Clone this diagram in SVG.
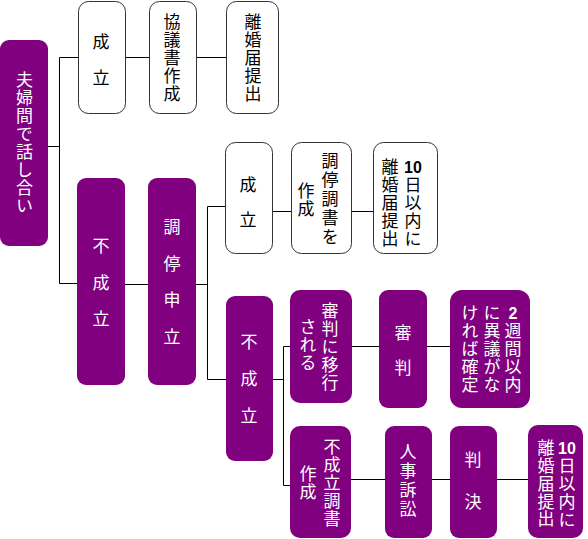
<svg xmlns="http://www.w3.org/2000/svg" width="588" height="539" viewBox="0 0 588 539">
<style>
.p{fill:#800080}
.w{fill:#fff;stroke:#333;stroke-width:1}
.v{font-family:"Noto Sans CJK JP","Noto Sans CJK SC",sans-serif;font-size:17px;writing-mode:vertical-rl;letter-spacing:1px}
.tw{fill:#fff}
.tb{fill:#000}
.d{font-family:"Liberation Sans",Arial,sans-serif;font-weight:bold;font-size:16px;text-anchor:middle;dominant-baseline:central}
.c{fill:none;stroke:#000;stroke-width:1}
</style>
<rect width="588" height="539" fill="#fff"/>
<g id="connectors">
<path class="c" d="M48,146.5H59.5M78,57.5H59.5V283.5H77"/>
<path class="c" d="M125,57.5H149M196,57.5H226"/>
<path class="c" d="M125,284.5H148"/>
<path class="c" d="M196,284.5H207.5M225,206.5H207.5V379.5H226"/>
<path class="c" d="M272,211.5H291M351,211.5H373"/>
<path class="c" d="M273,379.5H283.5M290,346.5H283.5V485.5H290"/>
<path class="c" d="M352,346.5H379M427,346.5H450"/>
<path class="c" d="M351,479.5H385M432,479.5H450M497,479.5H528"/>
</g>
<g id="n1"><rect class="p" x="0" y="40" width="48" height="206" rx="9"/>
<text class="v tw" x="24.5" y="71.5">夫婦間で話し合い</text></g>
<g id="n2"><rect class="w" x="78.5" y="1.5" width="47" height="112" rx="10"/>
<text class="v tb" x="101" y="33.5" style="letter-spacing:19px">成立</text></g>
<g id="n3"><rect class="w" x="149.5" y="1.5" width="47" height="112" rx="10"/>
<text class="v tb" x="172" y="13.5">協議書作成</text></g>
<g id="n4"><rect class="w" x="226.5" y="1.5" width="52" height="112" rx="10"/>
<text class="v tb" x="253" y="13.5">離婚届提出</text></g>
<g id="n5"><rect class="p" x="77" y="178" width="48" height="207" rx="9"/>
<text class="v tw" x="101" y="237.5" style="letter-spacing:19.5px">不成立</text></g>
<g id="n6"><rect class="p" x="148" y="178" width="48" height="207" rx="9"/>
<text class="v tw" x="172" y="218.5" style="letter-spacing:19.5px">調停申立</text></g>
<g id="n7"><rect class="w" x="225.5" y="142.5" width="47" height="111" rx="10"/>
<text class="v tb" x="248" y="176.5" style="letter-spacing:18px">成立</text></g>
<g id="n8"><rect class="w" x="291.5" y="142.5" width="60" height="111" rx="10"/>
<text class="v tb" x="330" y="152.5" style="letter-spacing:2px">調停調書を</text>
<text class="v tb" x="306" y="182.5">作成</text></g>
<g id="n9"><rect class="w" x="373.5" y="142.5" width="64" height="111" rx="10"/>
<text class="d tb" x="413" y="167">10</text>
<text class="v tb" x="413" y="176.5" style="letter-spacing:0.8px">日以内に</text>
<text class="v tb" x="390" y="158.5" style="letter-spacing:0.8px">離婚届提出</text></g>
<g id="n10"><rect class="p" x="226" y="296" width="47" height="165" rx="9"/>
<text class="v tw" x="249" y="333.5" style="letter-spacing:20px">不成立</text></g>
<g id="n11"><rect class="p" x="290" y="290" width="62" height="113" rx="10"/>
<text class="v tw" x="330" y="302.5">審判に移行</text>
<text class="v tw" x="308" y="318.5">される</text></g>
<g id="n12"><rect class="p" x="379" y="290" width="48" height="118" rx="9"/>
<text class="v tw" x="403" y="324.5" style="letter-spacing:18px">審判</text></g>
<g id="n13"><rect class="p" x="450" y="290" width="80" height="118" rx="12"/>
<text class="d tw" x="513" y="313">2</text>
<text class="v tw" x="513" y="322.5">週間以内</text>
<text class="v tw" x="492" y="304.5">に異議がな</text>
<text class="v tw" x="470" y="304.5">ければ確定</text></g>
<g id="n14"><rect class="p" x="290" y="426" width="61" height="112" rx="10"/>
<text class="v tw" x="332" y="438.5">不成立調書</text>
<text class="v tw" x="308" y="465.5">作成</text></g>
<g id="n15"><rect class="p" x="385" y="426" width="47" height="112" rx="9"/>
<text class="v tw" x="408" y="443.5" style="letter-spacing:2px">人事訴訟</text></g>
<g id="n16"><rect class="p" x="450" y="426" width="47" height="112" rx="9"/>
<text class="v tw" x="473" y="451.5" style="letter-spacing:25px">判決</text></g>
<g id="n17"><rect class="p" x="528" y="425" width="55" height="113" rx="10"/>
<text class="d tw" x="567" y="448">10</text>
<text class="v tw" x="567" y="457.5" style="letter-spacing:0.7px">日以内に</text>
<text class="v tw" x="546" y="439.5" style="letter-spacing:0.7px">離婚届提出</text></g>
</svg>
